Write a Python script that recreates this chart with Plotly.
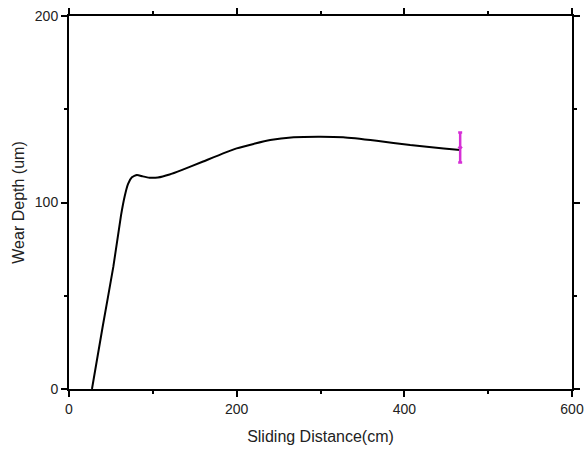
import plotly.graph_objects as go

distance = [27.4, 40, 52.9, 62, 66.5, 70.5, 75, 81, 88, 96, 106, 120, 135, 160, 200, 240, 268, 300, 327, 367, 407, 447, 466.6]
depth = [0, 33, 65.6, 93, 103.5, 110, 113.5, 114.8, 114, 113.3, 113.4, 115, 117.5, 122, 129, 133.5, 135, 135.3, 135, 133.1, 130.8, 129, 128.2]

err_x = [466.6]
err_y = [129.5]
err_size = [8]

fig = go.Figure()
fig.add_trace(go.Scatter(x=distance, y=depth, mode="lines",
                         line=dict(color="black", width=2, shape="spline", smoothing=0.5),
                         showlegend=False, hoverinfo="skip"))
fig.add_trace(go.Scatter(x=err_x, y=err_y, mode="markers",
                         marker=dict(color="#d62fd6", size=4, symbol="diamond"),
                         error_y=dict(type="data", array=err_size, color="#d62fd6", thickness=2.5, width=2),
                         showlegend=False))

font_tick = dict(family="Liberation Sans, Arial", size=14, color="#222")
font_title = dict(family="Liberation Sans, Arial", size=16, color="#222")

axis_common = dict(showline=True, linecolor="black", linewidth=2, mirror="ticks",
                   ticks="outside", ticklen=6, tickwidth=2, tickcolor="black",
                   showgrid=False, zeroline=False, automargin=False, tickfont=font_tick)

fig.update_xaxes(range=[0, 600], tickvals=[0, 200, 400, 600],
                 minor=dict(ticks="outside", ticklen=3, tickwidth=2, tickcolor="black", dtick=100, showgrid=False),
                 title=dict(text="Sliding Distance(cm)", font=font_title, standoff=15),
                 **axis_common)
fig.update_yaxes(range=[0, 200], tickvals=[0, 100, 200],
                 minor=dict(ticks="outside", ticklen=3, tickwidth=2, tickcolor="black", dtick=50, showgrid=False),
                 title=dict(text="Wear Depth (um)", font=font_title, standoff=6),
                 **axis_common)

fig.update_layout(width=584, height=454, margin=dict(l=69, r=12, t=16, b=65),
                  plot_bgcolor="white", paper_bgcolor="white")

fig.write_html("out.html")
